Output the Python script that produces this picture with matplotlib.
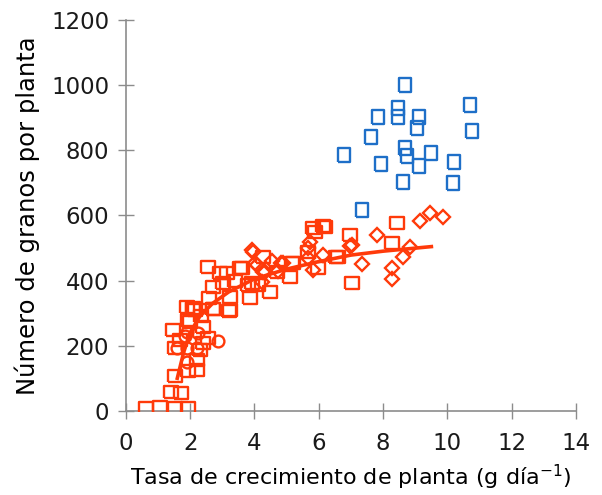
import matplotlib
matplotlib.use('Agg')
import matplotlib.pyplot as plt

# blue squares
blue_x = [8.67, 7.83, 8.47, 8.47, 9.13, 9.04, 10.70, 10.77, 7.63, 6.78, 8.67, 8.73,
          9.49, 7.93, 9.12, 10.20, 8.63, 10.16, 7.35]
blue_y = [999, 902, 928, 902, 902, 868, 938, 859, 839, 785, 806, 783,
          792, 757, 751, 763, 702, 700, 615]

# red squares
sq_x = [0.64, 1.06, 1.52, 1.94, 1.42, 1.73, 1.52, 1.92, 1.47, 1.52, 2.20, 2.09,
        2.72, 1.94, 2.41, 2.41, 2.30, 1.89, 2.56, 1.68, 2.20, 2.54, 3.16, 3.55,
        2.72, 3.24, 3.81, 2.09, 2.70, 3.24, 3.86, 2.92, 3.03, 6.19, 5.83, 5.67,
        5.98, 6.61, 6.97, 7.02, 5.21, 5.10, 4.48, 4.27, 4.12, 3.91, 6.14, 8.42,
        8.27, 4.69, 3.40, 2.60, 3.60, 5.16, 1.99, 3.21, 2.15, 5.88, 6.55, 2.35]
sq_y = [10, 12, 8, 8, 59, 56, 107, 123, 248, 193, 156, 312,
        312, 279, 258, 207, 187, 320, 223, 218, 126, 442, 422, 437,
        381, 350, 386, 315, 313, 310, 345, 422, 392, 565, 560, 488,
        437, 471, 540, 393, 453, 412, 366, 473, 386, 391, 567, 577,
        516, 427, 400, 345, 437, 453, 274, 307, 310, 550, 473, 290]

# red diamonds
dia_x = [3.91, 4.07, 4.27, 4.22, 5.72, 6.14, 5.67, 5.83, 6.97, 4.89, 4.53, 4.33,
         3.96, 4.01, 9.15, 9.46, 9.87, 7.80, 8.84, 8.63, 7.33, 8.27, 8.27, 7.02,
         4.84, 4.74, 5.67]
dia_y = [494, 448, 427, 396, 519, 478, 468, 432, 506, 453, 461, 427,
         488, 453, 583, 606, 594, 540, 502, 471, 451, 437, 405, 509,
         453, 430, 499]

# red circles
cir_x = [1.89, 1.58, 1.89, 2.20, 2.25, 1.89, 2.87, 1.85]
cir_y = [151, 192, 192, 192, 240, 243, 215, 230]

# fitted curve
fit_x = [1.6, 1.8, 2.0, 2.3, 2.7, 3.2, 4.0, 5.0, 6.0, 7.0, 8.0, 9.5]
fit_y = [100, 180, 240, 290, 330, 365, 405, 435, 458, 478, 490, 504]

red = '#ff3a0a'
blue = '#1e6fc8'
grey = '#8c8c8c'

plt.rcParams['font.family'] = ['DejaVu Sans']

fig = plt.figure(figsize=(6.02, 4.95), dpi=100)
ax = fig.add_axes([0.209, 0.170, 0.748, 0.790])

wide_rect = [(-1, -0.85), (1, -0.85), (1, 0.85), (-1, 0.85), (-1, -0.85)]
tall_rect = [(-0.85, -1), (0.85, -1), (0.85, 1), (-0.85, 1), (-0.85, -1)]

ax.plot(fit_x, fit_y, color=red, lw=2.6, zorder=2)
ax.plot(sq_x, sq_y, ls='none', marker=wide_rect, ms=10.5, mfc='none', mec=red, mew=1.7, zorder=3)
ax.plot(dia_x, dia_y, ls='none', marker='D', ms=7.5, mfc='none', mec=red, mew=1.7, zorder=3)
ax.plot(cir_x, cir_y, ls='none', marker='o', ms=8.5, mfc='none', mec=red, mew=1.7, zorder=3)
ax.plot(blue_x, blue_y, ls='none', marker=tall_rect, ms=9.5, mfc='none', mec=blue, mew=1.7, zorder=3)

ax.set_xlim(0, 14)
ax.set_ylim(0, 1200)
ax.set_xticks(range(0, 15, 2))
ax.set_yticks(range(0, 1201, 200))

for s in ['top', 'right']:
    ax.spines[s].set_visible(False)
for s in ['left', 'bottom']:
    ax.spines[s].set_color(grey)
    ax.spines[s].set_linewidth(1.2)

ax.tick_params(direction='inout', length=12, width=1, color=grey,
               labelsize=16.5, labelcolor='#1a1a1a')
ax.tick_params(axis='x', pad=9)
ax.tick_params(axis='y', pad=6)
for i, t in enumerate(ax.xaxis.get_major_ticks()):
    if i in (2, 3, 4):
        t.tick1line.set_color('#ff8a70')

ax.set_xlabel('Tasa de crecimiento de planta (g día$^{\\mathregular{-1}}$)', fontsize=16, labelpad=6)
ax.set_ylabel('Número de granos por planta', fontsize=17.5, labelpad=8)

plt.savefig('out.png', dpi=100)
